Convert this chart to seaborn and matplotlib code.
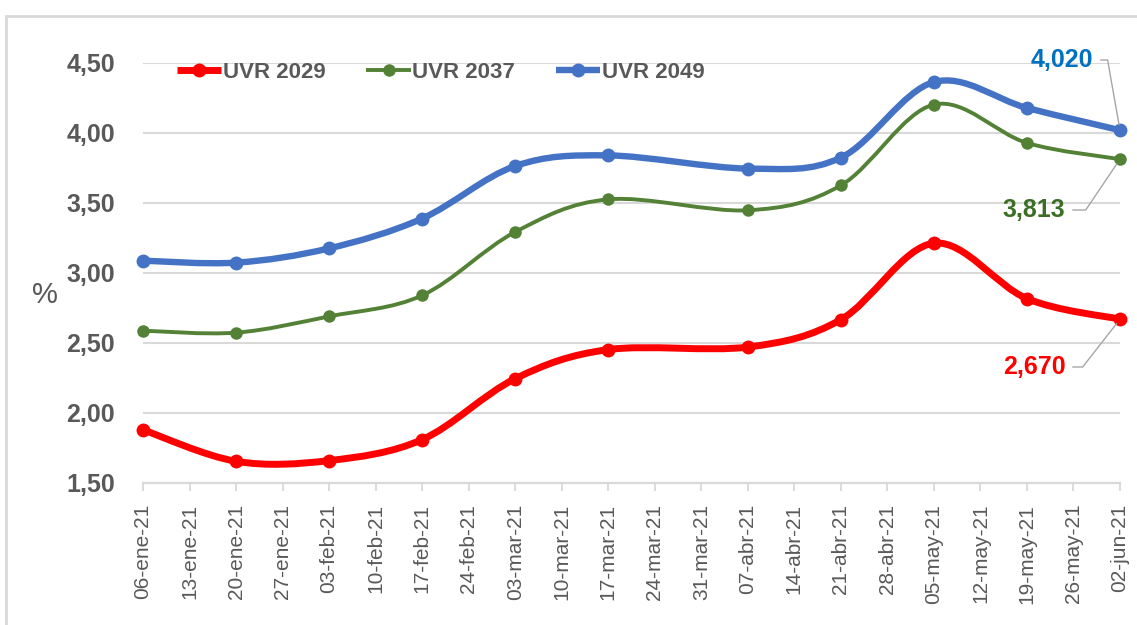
import matplotlib
matplotlib.use("Agg")
import matplotlib.pyplot as plt
import matplotlib.dates as mdates
from matplotlib.path import Path
from matplotlib.patches import PathPatch, Rectangle
from matplotlib.lines import Line2D
import seaborn as sns
import pandas as pd
import numpy as np

# ---------------- data ----------------
fechas = ["2021-01-06", "2021-01-20", "2021-02-03", "2021-02-17", "2021-03-03",
          "2021-03-17", "2021-04-07", "2021-04-21", "2021-05-05", "2021-05-19",
          "2021-06-02"]
uvr2029 = [1.880, 1.655, 1.660, 1.810, 2.245, 2.453, 2.471, 2.667, 3.213, 2.817, 2.670]
uvr2037 = [2.588, 2.574, 2.690, 2.840, 3.293, 3.526, 3.448, 3.626, 4.203, 3.929, 3.813]
uvr2049 = [3.088, 3.074, 3.176, 3.389, 3.764, 3.840, 3.746, 3.824, 4.364, 4.179, 4.020]
series_names = ["UVR 2029", "UVR 2037", "UVR 2049"]

tick_start, tick_end = "2021-01-06", "2021-06-02"
x_tick_labels = ["06-ene-21", "13-ene-21", "20-ene-21", "27-ene-21", "03-feb-21",
                 "10-feb-21", "17-feb-21", "24-feb-21", "03-mar-21", "10-mar-21",
                 "17-mar-21", "24-mar-21", "31-mar-21", "07-abr-21", "14-abr-21",
                 "21-abr-21", "28-abr-21", "05-may-21", "12-may-21", "19-may-21",
                 "26-may-21", "02-jun-21"]
y_ticks = [1.50, 2.00, 2.50, 3.00, 3.50, 4.00, 4.50]
y_tick_labels = ["1,50", "2,00", "2,50", "3,00", "3,50", "4,00", "4,50"]
end_labels = ["2,670", "3,813", "4,020"]

# ---------------- style ----------------
sns.set_theme(style="white")
plt.rcParams['font.family'] = ['Liberation Sans', 'DejaVu Sans']

colors = {"UVR 2029": "#FF0000", "UVR 2037": "#538135", "UVR 2049": "#4472C4"}
label_colors = {"UVR 2029": "#FF0000", "UVR 2037": "#3D6E25", "UVR 2049": "#0070C0"}
lwidths = {"UVR 2029": 5.0, "UVR 2037": 2.8, "UVR 2049": 4.6}
msizes = {"UVR 2029": 10.0, "UVR 2037": 9.0, "UVR 2049": 10.0}
text_gray = "#595959"
grid_gray = "#D9D9D9"

fig = plt.figure(figsize=(11.37, 6.25), dpi=100)
fig.patch.set_facecolor("white")
ax = fig.add_axes([143 / 1137, 1 - 483 / 625, (1120 - 143) / 1137, 420 / 625])

dates = pd.to_datetime(fechas)
values = {"UVR 2029": uvr2029, "UVR 2037": uvr2037, "UVR 2049": uvr2049}
df = pd.concat([pd.DataFrame({"fecha": dates, "valor": values[n], "serie": n})
                for n in series_names], ignore_index=True)


def smooth_path(xs, ys):
    """Bezier path through points (Catmull-Rom style, like spreadsheet smoothing)."""
    pts = np.column_stack([xs, ys])
    n = len(pts)
    verts = [pts[0]]
    codes = [Path.MOVETO]
    for i in range(n - 1):
        p0 = pts[i - 1] if i > 0 else pts[i]
        p1 = pts[i]
        p2 = pts[i + 1]
        p3 = pts[i + 2] if i + 2 < n else pts[i + 1]
        c1 = p1 + (p2 - p0) / 6.0
        c2 = p2 - (p3 - p1) / 6.0
        verts += [c1, c2, p2]
        codes += [Path.CURVE4] * 3
    return Path(verts, codes)


xnum = mdates.date2num(dates)
for name in series_names:
    sub = df[df["serie"] == name]
    path = smooth_path(xnum, sub["valor"].to_numpy())
    ax.add_patch(PathPatch(path, facecolor="none", edgecolor=colors[name],
                           lw=lwidths[name], capstyle="round", joinstyle="round",
                           zorder=3, clip_on=False))
    sns.scatterplot(data=sub, x="fecha", y="valor", color=colors[name],
                    s=msizes[name] ** 2, edgecolor=colors[name], linewidth=0,
                    ax=ax, legend=False, zorder=4, clip_on=False)

# axes
tick_dates = pd.date_range(tick_start, tick_end, freq="7D")
ax.set_xlim(mdates.date2num(pd.Timestamp(tick_start)), mdates.date2num(pd.Timestamp(tick_end)))
ax.set_xticks(mdates.date2num(tick_dates))
ax.set_xticklabels(x_tick_labels, rotation=90)
ax.set_ylim(1.5, 4.5)
ax.set_yticks(y_ticks)
ax.set_yticklabels(y_tick_labels)
ax.set_xlabel("")
ax.set_ylabel("")

ax.yaxis.grid(True, color=grid_gray, lw=1.5, zorder=0)
ax.xaxis.grid(False)
ax.set_axisbelow(True)
for s in ["left", "top", "right"]:
    ax.spines[s].set_visible(False)
ax.spines["bottom"].set_color(grid_gray)
ax.spines["bottom"].set_linewidth(1.6)

ax.tick_params(axis="x", bottom=True, length=6, width=1.3, color=grid_gray, pad=9,
               labelsize=15, labelcolor=text_gray)
ax.tick_params(axis="y", left=False, length=0, pad=20, labelsize=18,
               labelcolor=text_gray)
for lbl in ax.get_yticklabels():
    lbl.set_fontweight("bold")

fig.text(45 / 1137, 1 - 295 / 625, "%", fontsize=21, color=text_gray,
         ha="center", va="center")

# legend
handles = [Line2D([], [], color=colors[n], lw=lwidths[n], marker="o",
                  markersize=msizes[n], markeredgewidth=0, solid_capstyle="butt")
           for n in series_names]
leg = ax.legend(handles, series_names, ncol=3, frameon=False, loc="center left",
                bbox_to_anchor=(177 / 1137, 1 - 72 / 625),
                bbox_transform=fig.transFigure, borderpad=0, borderaxespad=0,
                handlelength=2.0, handletextpad=0.05, columnspacing=1.85,
                prop={"size": 16, "weight": "bold"})
for t in leg.get_texts():
    t.set_color(text_gray)

# end labels with leader lines
label_pos = {"UVR 2029": (1034, 367, 52), "UVR 2037": (1034, 210, 56),
             "UVR 2049": (1062, 60, 100)}
for name, txt in zip(series_names, end_labels):
    px, py, ang = label_pos[name]
    ax.annotate(txt, xy=(xnum[-1], values[name][-1]), xycoords="data",
                xytext=(px, 625 - py), textcoords="figure pixels",
                ha="center", va="center", fontsize=18, fontweight="bold",
                color=label_colors[name],
                arrowprops=dict(arrowstyle="-", color="#A6A6A6", lw=1.0,
                                relpos=(1.0, 0.5), shrinkA=3, shrinkB=4,
                                connectionstyle=f"angle,angleA=0,angleB={ang},rad=0"),
                zorder=5, annotation_clip=False)

# outer light frame
fig.patches.append(Rectangle((6 / 1137, -0.02), 1.05, 1 - 16 / 625 + 0.02,
                             transform=fig.transFigure, fill=False,
                             edgecolor="#D9D9D9", lw=2.0))

fig.savefig("out.png", dpi=100, facecolor="white")
